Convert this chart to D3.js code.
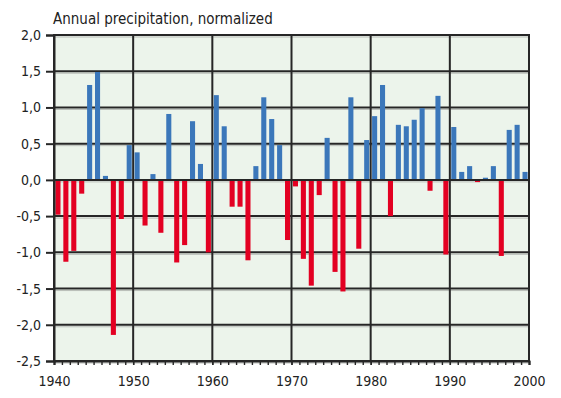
<!DOCTYPE html>
<html>
<head>
<meta charset="utf-8">
<script src="https://cdn.jsdelivr.net/npm/d3@7"></script>
<style>
  body { margin: 0; background: #fff; }
  svg text { font-family: "Liberation Sans Narrow", "Arial Narrow", "DejaVu Sans Condensed", sans-serif; }
</style>
</head>
<body>
<div id="chart"></div>
<script>
// years 1940..1999, normalized annual precipitation
var years = d3.range(1940, 2000);
var values = [
  -0.48, -1.13, -0.98, -0.19, 1.31, 1.49, 0.055, -2.14, -0.54, 0.48,
  0.38, -0.63, 0.08, -0.73, 0.91, -1.14, -0.90, 0.81, 0.22, -1.00,
  1.17, 0.74, -0.37, -0.37, -1.11, 0.19, 1.14, 0.84, 0.48, -0.83,
  -0.09, -1.09, -1.46, -0.21, 0.58, -1.27, -1.54, 1.14, -0.95, 0.55,
  0.88, 1.31, -0.50, 0.76, 0.74, 0.83, 0.99, -0.15, 1.16, -1.03,
  0.73, 0.11, 0.19, -0.03, 0.03, 0.19, -1.05, 0.69, 0.76, 0.11
];
var yTicks = [2.0, 1.5, 1.0, 0.5, 0.0, -0.5, -1.0, -1.5, -2.0, -2.5];
var xTicks = [1940, 1950, 1960, 1970, 1980, 1990, 2000];
var title = "Annual precipitation, normalized";

var data = years.map(function(y, i) { return {year: y, value: values[i]}; });

var width = 561, height = 398;
var margin = {top: 35, right: 32, bottom: 37, left: 54};
var w = width - margin.left - margin.right,
    h = height - margin.top - margin.bottom;

var svg = d3.select("#chart").append("svg")
    .attr("width", width)
    .attr("height", height);

var g = svg.append("g")
    .attr("transform", "translate(" + margin.left + "," + margin.top + ")");

var x = d3.scaleLinear().domain([1940, 2000]).range([0, w]);
var xb = d3.scaleBand().domain(years).range([0, w]).paddingInner(0.36).paddingOuter(0.18);
var y = d3.scaleLinear().domain([-2.5, 2.0]).range([h, 0]);

// plot background
g.append("rect")
    .attr("width", w).attr("height", h)
    .style("fill", "#ecf4eb");

// horizontal grid (with a light shadow line below)
g.selectAll(".hshadow").data(yTicks).enter().append("line")
    .attr("x1", 0).attr("x2", w)
    .attr("y1", function(d) { return y(d) + 2; })
    .attr("y2", function(d) { return y(d) + 2; })
    .style("stroke", "#b9bdb8").style("stroke-width", 1);
g.selectAll(".hgrid").data(yTicks).enter().append("line")
    .attr("x1", 0).attr("x2", w)
    .attr("y1", function(d) { return y(d); })
    .attr("y2", function(d) { return y(d); })
    .style("stroke", "#262626").style("stroke-width", 2);

// vertical decade grid
g.selectAll(".vgrid").data(xTicks).enter().append("line")
    .attr("x1", function(d) { return x(d); })
    .attr("x2", function(d) { return x(d); })
    .attr("y1", 0).attr("y2", h)
    .style("stroke", "#262626").style("stroke-width", 2);

// bars
g.selectAll(".bar").data(data).enter().append("rect")
    .attr("x", function(d) { return xb(d.year); })
    .attr("width", xb.bandwidth())
    .attr("y", function(d) { return y(Math.max(0, d.value)); })
    .attr("height", function(d) { return Math.abs(y(d.value) - y(0)); })
    .style("fill", function(d) { return d.value >= 0 ? "#3b77ba" : "#e30022"; });

// zero line on top
g.append("line")
    .attr("x1", 0).attr("x2", w)
    .attr("y1", y(0)).attr("y2", y(0))
    .style("stroke", "#262626").style("stroke-width", 2);

// y axis
var yAxis = g.append("g")
    .call(d3.axisLeft(y).tickValues(yTicks).tickSize(8).tickPadding(5)
        .tickFormat(function(d) { return d3.format(".1f")(d).replace(".", ",").replace("−", "-"); }));
yAxis.select(".domain").style("stroke", "#262626").style("stroke-width", 2);
yAxis.selectAll(".tick line").style("stroke", "#262626").style("stroke-width", 2);
yAxis.selectAll("text").style("font-size", "14px").style("fill", "#222");

// x axis: year minor ticks
var xAxisMinor = g.append("g")
    .attr("transform", "translate(0," + h + ")")
    .call(d3.axisBottom(x).tickValues(d3.range(1940, 2001)).tickSize(4).tickFormat(""));
xAxisMinor.select(".domain").style("stroke", "#262626").style("stroke-width", 2);
xAxisMinor.selectAll(".tick line").style("stroke", "#262626").style("stroke-width", 1.4);

var xAxis = g.append("g")
    .attr("transform", "translate(0," + h + ")")
    .call(d3.axisBottom(x).tickValues(xTicks).tickSize(4).tickPadding(11).tickFormat(d3.format("d")));
xAxis.select(".domain").remove();
xAxis.selectAll(".tick line").style("stroke", "#262626").style("stroke-width", 1.4);
xAxis.selectAll("text").style("font-size", "14px").style("fill", "#222");

// plot border
g.append("rect")
    .attr("width", w).attr("height", h)
    .style("fill", "none")
    .style("stroke", "#262626").style("stroke-width", 2);

// title
svg.append("text")
    .attr("x", 53).attr("y", 24)
    .style("font-size", "15px").style("fill", "#222")
    .text(title);
</script>
</body>
</html>
